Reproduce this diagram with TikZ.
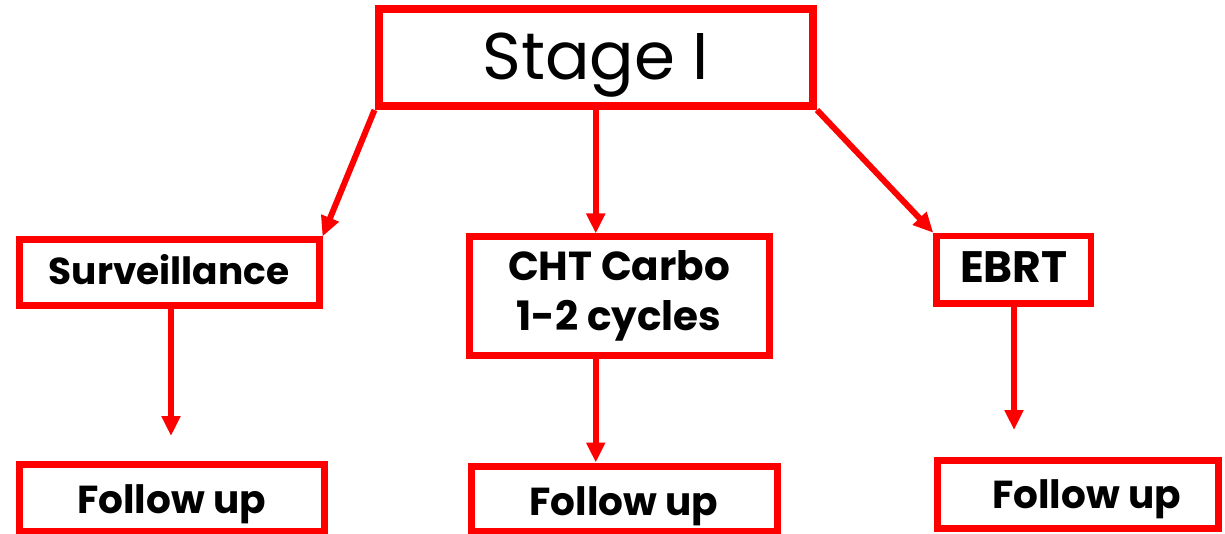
\documentclass[tikz,border=0pt]{standalone}
\usepackage{fontspec}
\setmainfont{Poppins}
\usetikzlibrary{arrows.meta,calc}
\definecolor{boxred}{RGB}{255,0,0}
\tikzset{
  box/.style={draw=boxred, line width=7pt, fill=white, rectangle, inner sep=0pt,
              align=center, text=black, font=\bfseries},
  followbox/.style={box, font=\bfseries\fontsize{39}{44}\selectfont, text depth=3.5pt},
  link/.style={draw=boxred, line width=6pt, -{Triangle[length=20pt,width=18pt]}}
}
\begin{document}
\begin{tikzpicture}[x=1pt,y=-1pt]
  \useasboundingbox (0,0) rectangle (1225,534);
  % top box
  \node[box, line width=8pt, minimum width=434.5pt, minimum height=96.5pt,
        text height=50pt, text depth=5.5pt,
        font=\fontsize{66}{72}\selectfont] (stage) at (595.75,57.75) {Stage I};
  % second row
  \node[box, minimum width=300pt, minimum height=65.5pt,
        text height=28pt, text depth=3.5pt,
        font=\bfseries\fontsize{37.5}{42}\selectfont] (surv) at (169,272.75) {Surveillance};
  \node[box, minimum width=300pt, minimum height=118.5pt,
        font=\bfseries\fontsize{40.5}{50}\selectfont] (cht) at (619,296.25) {CHT Carbo\\1-2 cycles};
  \node[box, line width=6.5pt, minimum width=154.5pt, minimum height=67.5pt,
        text height=30pt, text depth=3.5pt,
        font=\bfseries\fontsize{44}{48}\selectfont] (ebrt) at (1013.75,269.75) {EBRT};
  % follow-up row
  \node[followbox, minimum width=305pt, minimum height=67pt, text height=34pt]
        (f1) at (171.5,497.75) {Follow up};
  \node[followbox, minimum width=306pt, minimum height=65pt, text height=36.5pt]
        (f2) at (624,498.5) {Follow up};
  \node[followbox, minimum width=281pt, minimum height=68pt, text height=31.5pt]
        (f3) at (1077.5,494) {\hspace*{18pt}Follow up};
  % arrow ends that stop short of the boxes
  \coordinate (e1) at (171,436);
  \coordinate (e3) at (1014,430);
  % connectors
  \draw[link] (stage.south west) -- (surv.north east);
  \draw[link] (stage.south) -- (stage.south |- cht.north);
  \draw[link] (stage.south east) -- (ebrt.north west);
  \draw[link] (surv.south -| e1) -- (e1);
  \draw[link] (cht.south -| stage.south) -- (f2.north -| stage.south);
  \draw[link] (ebrt.south -| e3) -- (e3);
\end{tikzpicture}
\end{document}
